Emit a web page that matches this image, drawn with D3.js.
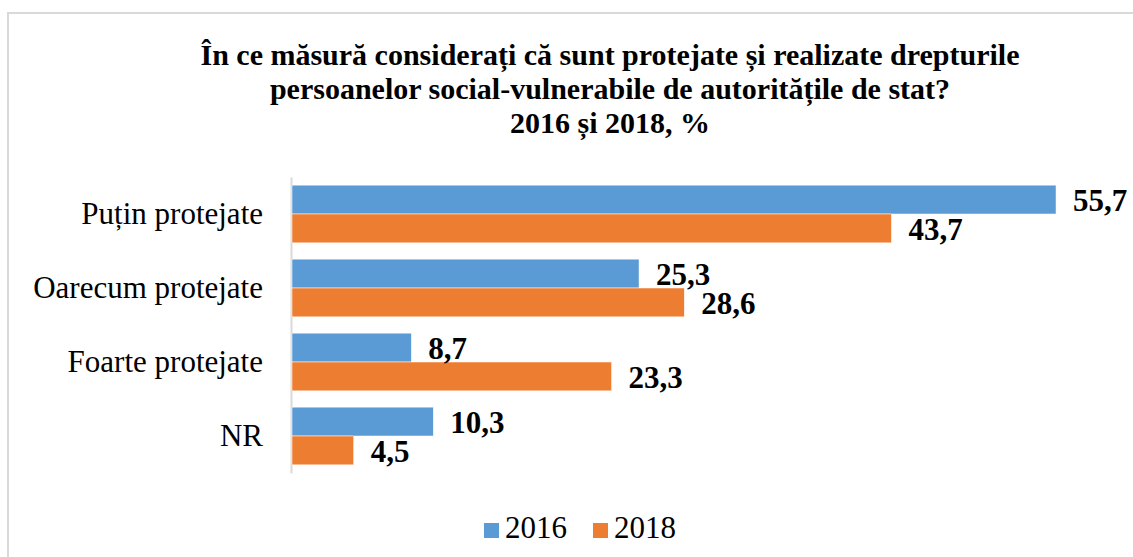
<!DOCTYPE html>
<html lang="ro">
<head>
<meta charset="UTF-8">
<title>Drepturile persoanelor social-vulnerabile</title>
<script src="https://d3js.org/d3.v7.min.js"></script>
<style>
  body { margin: 0; background: #fff; overflow: hidden; }
  svg, svg text { font-family: "Liberation Serif", "Times New Roman", serif !important; }
  svg { display: block; }
</style>
</head>
<body>
<script>
const categories = ["Puțin protejate", "Oarecum protejate", "Foarte protejate", "NR"];
const years = ["2016", "2018"];
const values2016 = [55.7, 25.3, 8.7, 10.3];
const values2018 = [43.7, 28.6, 23.3, 4.5];
const titleLines = [
  "În ce măsură considerați că sunt protejate și realizate drepturile",
  "persoanelor social-vulnerabile de autoritățile de stat?",
  "2016 și 2018, %"
];
const colors = ["#5b9bd5", "#ed7d31"];

const width = 1133, height = 557;
const svg = d3.select("body").append("svg")
  .attr("width", width)
  .attr("height", height);

// chart frame (runs off the right / bottom edge in the original)
svg.append("rect")
  .attr("x", 8).attr("y", 13)
  .attr("width", 1200).attr("height", 600)
  .attr("fill", "none")
  .attr("stroke", "#d9d9d9")
  .attr("stroke-width", 2);

// title
svg.append("g").selectAll("text")
  .data(titleLines)
  .join("text")
  .attr("x", 610)
  .attr("y", (d, i) => 65 + i * 34)
  .attr("text-anchor", "middle")
  .attr("font-weight", "bold")
  .attr("font-size", 30)
  .text(d => d);

const rows = categories.map((c, i) => ({
  category: c,
  values: [values2016[i], values2018[i]]
}));

const x = d3.scaleLinear().domain([0, 60]).range([292, 1115]);
const y = d3.scaleBand().domain(categories).range([177, 473])
  .paddingInner(0.22).paddingOuter(0.11);
const ySub = d3.scaleBand().domain(years).range([0, y.bandwidth()]);

// category axis
const yAxis = svg.append("g")
  .attr("transform", `translate(${x(0) - 1},0)`)
  .call(d3.axisLeft(y).tickSize(0).tickPadding(28));
yAxis.attr("font-family", null);
yAxis.select(".domain").attr("stroke", "#d9d9d9").attr("stroke-width", 2);
yAxis.selectAll("text")
  .attr("font-size", 31)
  .attr("fill", "#000");

const groups = svg.append("g").selectAll("g")
  .data(rows)
  .join("g")
  .attr("transform", d => `translate(0,${y(d.category)})`);

groups.selectAll("rect")
  .data(d => d.values.map((v, j) => ({ year: years[j], value: v, j })))
  .join("rect")
  .attr("x", x(0))
  .attr("y", d => ySub(d.year))
  .attr("width", d => x(d.value) - x(0))
  .attr("height", ySub.bandwidth())
  .attr("fill", d => colors[d.j])
  .attr("stroke", "#fff")
  .attr("stroke-width", 0.5);

groups.selectAll("text.val")
  .data(d => d.values.map((v, j) => ({ year: years[j], value: v })))
  .join("text")
  .attr("class", "val")
  .attr("x", d => x(d.value) + 17)
  .attr("y", d => ySub(d.year) + ySub.bandwidth() / 2)
  .attr("dy", "0.36em")
  .attr("font-weight", "bold")
  .attr("font-size", 31)
  .text(d => d3.format(".1f")(d.value).replace(".", ","));

// legend
const legend = svg.append("g").selectAll("g")
  .data(years)
  .join("g")
  .attr("transform", (d, i) => `translate(${484 + i * 109},523)`);
legend.append("rect")
  .attr("width", 15).attr("height", 15)
  .attr("fill", (d, i) => colors[i]);
legend.append("text")
  .attr("x", 21).attr("y", 15)
  .attr("font-size", 31)
  .text(d => d);
</script>
</body>
</html>
